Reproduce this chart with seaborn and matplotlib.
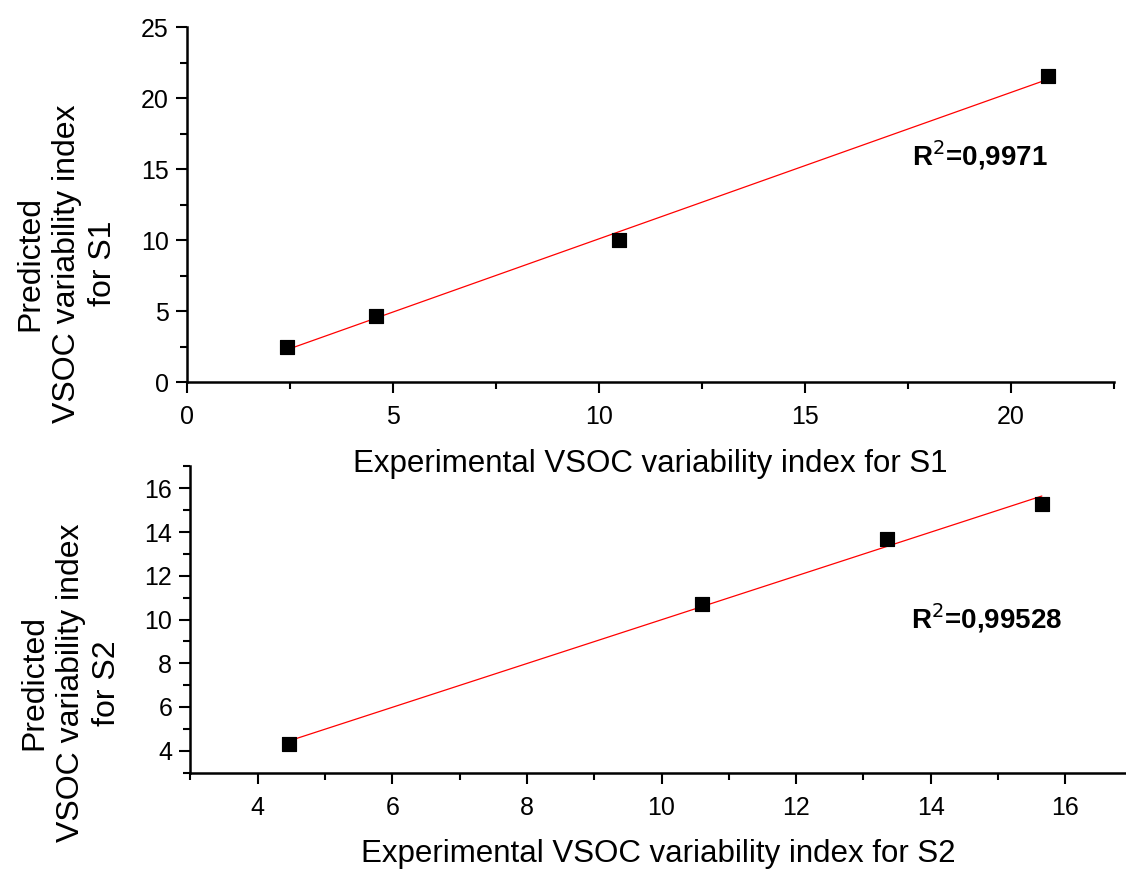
import numpy as np
import pandas as pd
import matplotlib
matplotlib.use('Agg')
import matplotlib.pyplot as plt
import seaborn as sns
from matplotlib.ticker import MultipleLocator

# Data
s1_experimental = [2.42, 4.6, 10.5, 20.9]
s1_predicted = [2.46, 4.7, 10.05, 21.55]
s2_experimental = [4.46, 10.6, 13.35, 15.65]
s2_predicted = [4.32, 10.7, 13.7, 15.3]
r2_labels = ['R$^{2}$=0,9971', 'R$^{2}$=0,99528']

sns.set_style('ticks')
plt.rcParams['font.family'] = ['Liberation Sans', 'DejaVu Sans']
plt.rcParams['text.color'] = 'black'
plt.rcParams['axes.labelcolor'] = 'black'

fig = plt.figure(figsize=(11.26, 8.75), dpi=100)
ax1 = fig.add_axes([0.166, 0.563, 0.823, 0.406])
ax2 = fig.add_axes([0.169, 0.117, 0.831, 0.350])
ax2.patch.set_alpha(0)
ax1.set_zorder(2)

df1 = pd.DataFrame({'x': s1_experimental, 'y': s1_predicted})
df2 = pd.DataFrame({'x': s2_experimental, 'y': s2_predicted})

panels = [
    (ax1, df1, 'S1', (0, 22.5), (0, 25), 5, 2.5, r2_labels[0], (19.25, 16.0), (-0.1294, 0.335)),
    (ax2, df2, 'S2', (3, 16.9), (3, 17), 2, 1, r2_labels[1], (14.83, 10.05), (-0.128, 0.293)),
]

for ax, df, name, xlim, ylim, major, minor, r2, r2_pos, ylab_pos in panels:
    # Linear fit line in red, only over the data range
    sns.regplot(data=df, x='x', y='y', ax=ax, scatter=False, ci=None,
                line_kws={'color': 'red', 'lw': 0.9})
    sns.scatterplot(data=df, x='x', y='y', ax=ax, marker='s', s=110,
                    color='black', edgecolor='black', zorder=3)

    ax.set_xlim(*xlim)
    ax.set_ylim(*ylim)
    ax.xaxis.set_major_locator(MultipleLocator(major))
    ax.xaxis.set_minor_locator(MultipleLocator(minor))
    ax.yaxis.set_major_locator(MultipleLocator(major))
    ax.yaxis.set_minor_locator(MultipleLocator(minor))
    ax.tick_params(which='major', direction='out', length=8, width=1.5,
                   labelsize=18, color='black', labelcolor='black', pad=8.5)
    ax.tick_params(axis='y', which='major', pad=5)
    ax.tick_params(which='minor', direction='out', length=5, width=1.5,
                   color='black')

    sns.despine(ax=ax)
    for side in ['left', 'bottom']:
        ax.spines[side].set_linewidth(1.8)
        ax.spines[side].set_color('black')

    ax.set_xlabel('Experimental VSOC variability index for ' + name,
                  fontsize=22.5, labelpad=14)
    ax.set_ylabel('Predicted\nVSOC variability index\nfor ' + name,
                  fontsize=23, linespacing=1.27)
    ax.yaxis.label.set_va('center')
    ax.yaxis.set_label_coords(*ylab_pos)

    ax.text(r2_pos[0], r2_pos[1], r2, fontsize=20, fontweight='bold',
            ha='center', va='center')

fig.savefig('out.png', dpi=100)
